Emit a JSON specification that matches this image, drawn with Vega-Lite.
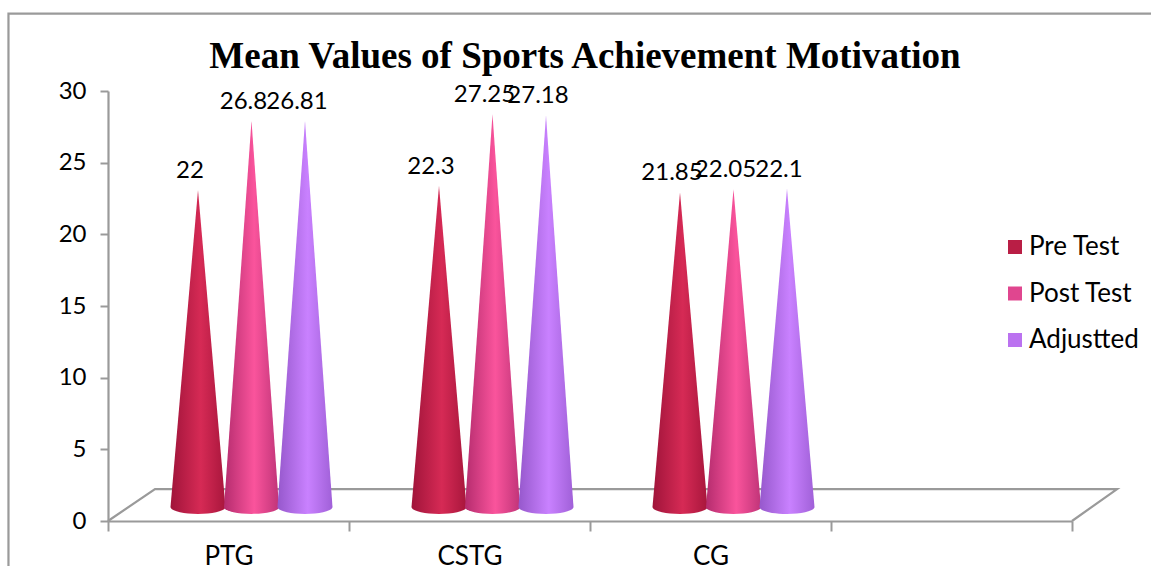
{
"$schema":"https://vega.github.io/schema/vega-lite/v6.json",
"autosize":"none",
"width":964,"height":430,
"padding":{"left":108,"top":91,"right":79,"bottom":45},
"background":"white",
"config":{"view":{"stroke":null}},
"title":{"text":"Mean Values of Sports Achievement Motivation","font":"Liberation Serif","fontSize":37,"fontWeight":"bold","color":"#000000","anchor":"middle","dx":-5,"offset":-96,"baseline":"alphabetic"},
"datasets":{
"cones":[
{"group":"PTG","series":"Pre Test","l":0,"value":22,"r":0},
{"group":"PTG","series":"Post Test","l":0,"value":26.8,"r":0},
{"group":"PTG","series":"Adjustted","l":0,"value":26.81,"r":0},
{"group":"CSTG","series":"Pre Test","l":0,"value":22.3,"r":0},
{"group":"CSTG","series":"Post Test","l":0,"value":27.25,"r":0},
{"group":"CSTG","series":"Adjustted","l":0,"value":27.18,"r":0},
{"group":"CG","series":"Pre Test","l":0,"value":21.85,"r":0},
{"group":"CG","series":"Post Test","l":0,"value":22.05,"r":0},
{"group":"CG","series":"Adjustted","l":0,"value":22.1,"r":0}
],
"frame":[
{"part":"frame","seq":1,"u":-0.413,"v":-5},
{"part":"frame","seq":2,"u":-0.413,"v":35.4},
{"part":"frame","seq":3,"u":4.33,"v":35.4},
{"part":"floor","seq":1,"u":0,"v":0},
{"part":"floor","seq":2,"u":0.195,"v":2.23},
{"part":"floor","seq":3,"u":4.187,"v":2.23},
{"part":"floor","seq":4,"u":4,"v":0}
]
},
"resolve":{"scale":{"x":"independent","y":"independent"},"axis":{"x":"independent","y":"independent"}},
"layer":[
{"data":{"name":"frame"},
 "mark":{"type":"line","color":"#9a9a9a","strokeWidth":2.2,"clip":false},
 "encoding":{
  "x":{"field":"u","type":"quantitative","scale":{"domain":[0,4],"nice":false,"zero":false},"axis":null},
  "y":{"field":"v","type":"quantitative","scale":{"domain":[0,30],"nice":false},
   "axis":{"values":[0,5,10,15,20,25,30],"title":null,"grid":false,"labelFont":"Lato","labelFontSize":24,"labelColor":"#000000","labelPadding":14,"tickSize":8,"tickColor":"#9a9a9a","tickWidth":2,"domainColor":"#9a9a9a","domainWidth":2.2}},
  "detail":{"field":"part"},
  "order":{"field":"seq"}
 }},
{"data":{"name":"cones"},
 "transform":[
  {"fold":["l","value","r"],"as":["vertex","height"]},
  {"calculate":"indexof(['Pre Test','Post Test','Adjustted'], datum.series) * 53.5 + indexof(['l','value','r'], datum.vertex) * 27.5","as":"slot"}
 ],
 "encoding":{
  "x":{"field":"group","type":"nominal","sort":null,"scale":{"domain":["PTG","CSTG","CG"," "],"paddingInner":0,"paddingOuter":0},
   "axis":{"title":null,"labelAngle":0,"labelFont":"Lato","labelFontSize":26,"labelColor":"#000000","labelPadding":12,"tickBand":"extent","tickSize":10,"tickColor":"#9a9a9a","tickWidth":2,"domainColor":"#9a9a9a","domainWidth":2.2}},
  "xOffset":{"field":"slot","type":"quantitative","scale":{"domain":[0,241],"range":[62.5,303.5],"nice":false,"zero":false}},
  "y":{"field":"height","type":"quantitative","stack":null,"scale":{"domain":[-0.97,28.87],"nice":false,"zero":false},"axis":null}
 },
 "layer":[
  {"transform":[{"filter":"datum.series === 'Pre Test'"}],
   "mark":{"type":"area","clip":false,"fill":{"gradient":"linear","x1":0,"x2":1,"y1":0,"y2":0,"stops":[{"offset":0,"color":"#a0143a"},{"offset":0.55,"color":"#d62a55"},{"offset":1,"color":"#a8163c"}]}},
   "encoding":{"detail":{"field":"group"}}},
  {"transform":[{"filter":"datum.series === 'Post Test'"}],
   "mark":{"type":"area","clip":false,"fill":{"gradient":"linear","x1":0,"x2":1,"y1":0,"y2":0,"stops":[{"offset":0,"color":"#b52c6e"},{"offset":0.55,"color":"#fa549c"},{"offset":1,"color":"#c03478"}]}},
   "encoding":{"detail":{"field":"group"}}},
  {"transform":[{"filter":"datum.series === 'Adjustted'"}],
   "mark":{"type":"area","clip":false,"fill":{"gradient":"linear","x1":0,"x2":1,"y1":0,"y2":0,"stops":[{"offset":0,"color":"#9658cc"},{"offset":0.55,"color":"#c981ff"},{"offset":1,"color":"#a060d8"}]}},
   "encoding":{"detail":{"field":"group"}}},
  {"transform":[{"filter":"datum.series === 'Pre Test' && datum.vertex === 'value'"}],
   "mark":{"type":"point","filled":true,"opacity":1,"size":3025,"clip":false,"shape":"M-1,0 A1,0.25 0 0 0 1,0 Z","fill":{"gradient":"linear","x1":0,"x2":1,"y1":0,"y2":0,"stops":[{"offset":0,"color":"#a0143a"},{"offset":0.55,"color":"#d62a55"},{"offset":1,"color":"#a8163c"}]}},
   "encoding":{"y":{"datum":0,"type":"quantitative"}}},
  {"transform":[{"filter":"datum.series === 'Post Test' && datum.vertex === 'value'"}],
   "mark":{"type":"point","filled":true,"opacity":1,"size":3025,"clip":false,"shape":"M-1,0 A1,0.25 0 0 0 1,0 Z","fill":{"gradient":"linear","x1":0,"x2":1,"y1":0,"y2":0,"stops":[{"offset":0,"color":"#b52c6e"},{"offset":0.55,"color":"#fa549c"},{"offset":1,"color":"#c03478"}]}},
   "encoding":{"y":{"datum":0,"type":"quantitative"}}},
  {"transform":[{"filter":"datum.series === 'Adjustted' && datum.vertex === 'value'"}],
   "mark":{"type":"point","filled":true,"opacity":1,"size":3025,"clip":false,"shape":"M-1,0 A1,0.25 0 0 0 1,0 Z","fill":{"gradient":"linear","x1":0,"x2":1,"y1":0,"y2":0,"stops":[{"offset":0,"color":"#9658cc"},{"offset":0.55,"color":"#c981ff"},{"offset":1,"color":"#a060d8"}]}},
   "encoding":{"y":{"datum":0,"type":"quantitative"}}},
  {"transform":[{"filter":"datum.vertex === 'value'"}],
   "mark":{"type":"text","font":"Lato","fontSize":24,"fill":"#000000","dx":-8,"dy":-19,"baseline":"middle","clip":false},
   "encoding":{"text":{"field":"height","type":"quantitative"}}},
  {"transform":[{"filter":"datum.vertex === 'value'"}],
   "mark":{"type":"point","filled":true,"opacity":0,"clip":false},
   "encoding":{
    "color":{"field":"series","type":"nominal","scale":{"domain":["Pre Test","Post Test","Adjustted"],"range":["#b91e45","#e0468f","#bb72f0"]},
     "legend":{"title":null,"orient":"none","legendX":894,"legendY":143,"symbolType":"square","symbolSize":196,"symbolOpacity":1,"labelFont":"Lato","labelFontSize":26,"labelColor":"#000000","labelOpacity":1,"rowPadding":20.5,"labelOffset":1,"labelLimit":200}}
   }}
 ]}
]
}
